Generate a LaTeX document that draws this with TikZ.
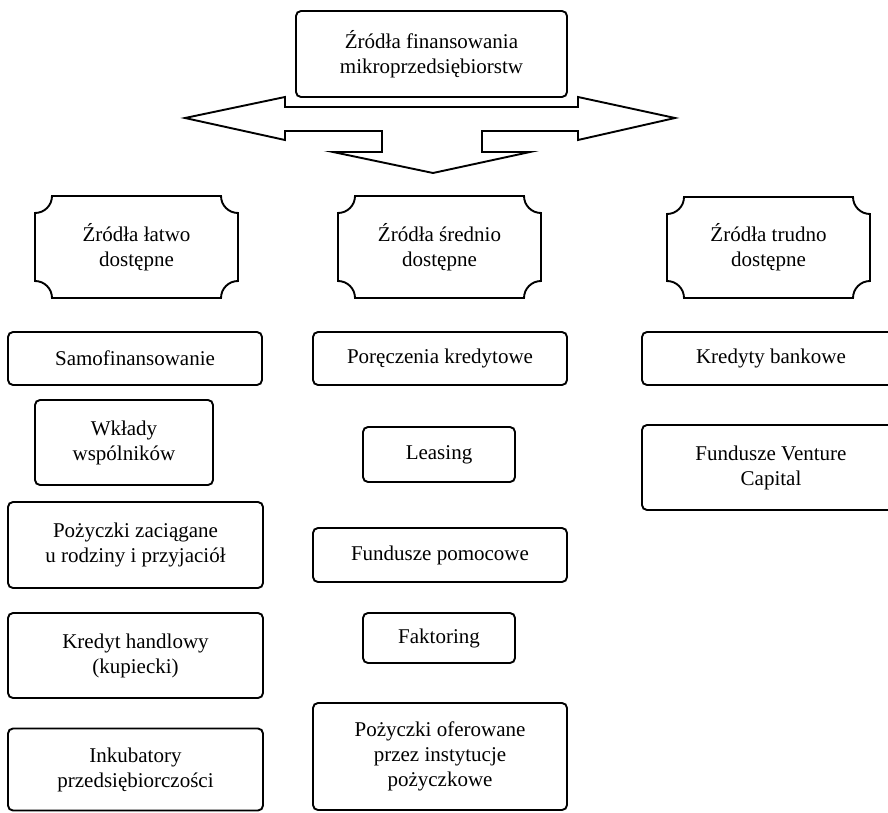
\documentclass[tikz,border=0pt]{standalone}
\usepackage{fontspec}
\setmainfont{Liberation Serif}
\newcommand\plaque[1]{%
  \draw[boxline] ([xshift=17pt]#1.north west) -- ([xshift=-17pt]#1.north east)
    arc[start angle=180,end angle=270,radius=17pt] -- ([yshift=17pt]#1.south east)
    arc[start angle=90,end angle=180,radius=17pt] -- ([xshift=17pt]#1.south west)
    arc[start angle=0,end angle=90,radius=17pt] -- ([yshift=-17pt]#1.north west)
    arc[start angle=-90,end angle=0,radius=17pt] -- cycle;}
\begin{document}
\begin{tikzpicture}[x=1pt,y=1pt,
  boxline/.style={line width=1.9pt,line join=miter},
  txt/.style={align=center,font=\fontsize{21}{25}\selectfont,inner sep=0pt,outer sep=0pt},
  rbox/.style={txt,draw,line width=1.9pt,rounded corners=5pt},
  pbox/.style={txt}]
\path[use as bounding box,clip] (0,0) rectangle (888,-813);
\fill[white] (0,0) rectangle (888,-813);
% three-way arrow
\draw[boxline] (285,-107) -- (285,-97) -- (185,-118) -- (285,-140) -- (285,-131)
  -- (382,-131) -- (382,-152) -- (333,-152) -- (433,-173) -- (530,-152) -- (482,-152)
  -- (482,-131) -- (578,-131) -- (578,-140) -- (675,-118) -- (578,-97) -- (578,-107) -- cycle;
% top box
\node[rbox,fill=white,minimum width=271pt,minimum height=86pt] (top) at (431.5,-54)
  {Źródła finansowania\\mikroprzedsiębiorstw};
% headers
\node[pbox,minimum width=203pt,minimum height=102pt] (hL) at (136.5,-247) {Źródła łatwo\\dostępne};
\node[pbox,minimum width=203pt,minimum height=102pt] (hM) at (439.5,-247) {Źródła średnio\\dostępne};
\node[pbox,minimum width=203pt,minimum height=101pt] (hR) at (768.5,-247.5) {Źródła trudno\\dostępne};
\plaque{hL}\plaque{hM}\plaque{hR}
% left column
\node[rbox,minimum width=254pt,minimum height=53pt] (l1) at (135,-358.5) {Samofinansowanie};
\node[rbox,minimum width=178pt,minimum height=85pt] (l2) at (124,-442.5) {Wkłady\\wspólników};
\node[rbox,minimum width=255pt,minimum height=86pt] (l3) at (135.5,-545) {Pożyczki zaciągane\\u rodziny i przyjaciół};
\node[rbox,minimum width=255pt,minimum height=85pt] (l4) at (135.5,-655.5) {Kredyt handlowy\\(kupiecki)};
\node[rbox,minimum width=255pt,minimum height=82pt] (l5) at (135.5,-769.5) {Inkubatory\\przedsiębiorczości};
% middle column
\node[rbox,minimum width=254pt,minimum height=53pt] (m1) at (440,-358.5) {Poręczenia kredytowe};
\node[rbox,minimum width=152pt,minimum height=55pt] (m2) at (439,-454.5) {Leasing};
\node[rbox,minimum width=254pt,minimum height=54pt] (m3) at (440,-555) {Fundusze pomocowe};
\node[rbox,minimum width=152pt,minimum height=50pt] (m4) at (439,-638) {Faktoring};
\node[rbox,minimum width=254pt,minimum height=107pt] (m5) at (440,-756.5) {Pożyczki oferowane\\przez instytucje\\pożyczkowe};
% right column
\node[rbox,minimum width=258pt,minimum height=53pt] (r1) at (771,-358.5) {Kredyty bankowe};
\node[rbox,minimum width=258pt,minimum height=85pt] (r2) at (771,-467.5) {Fundusze Venture\\Capital};
\end{tikzpicture}
\end{document}
